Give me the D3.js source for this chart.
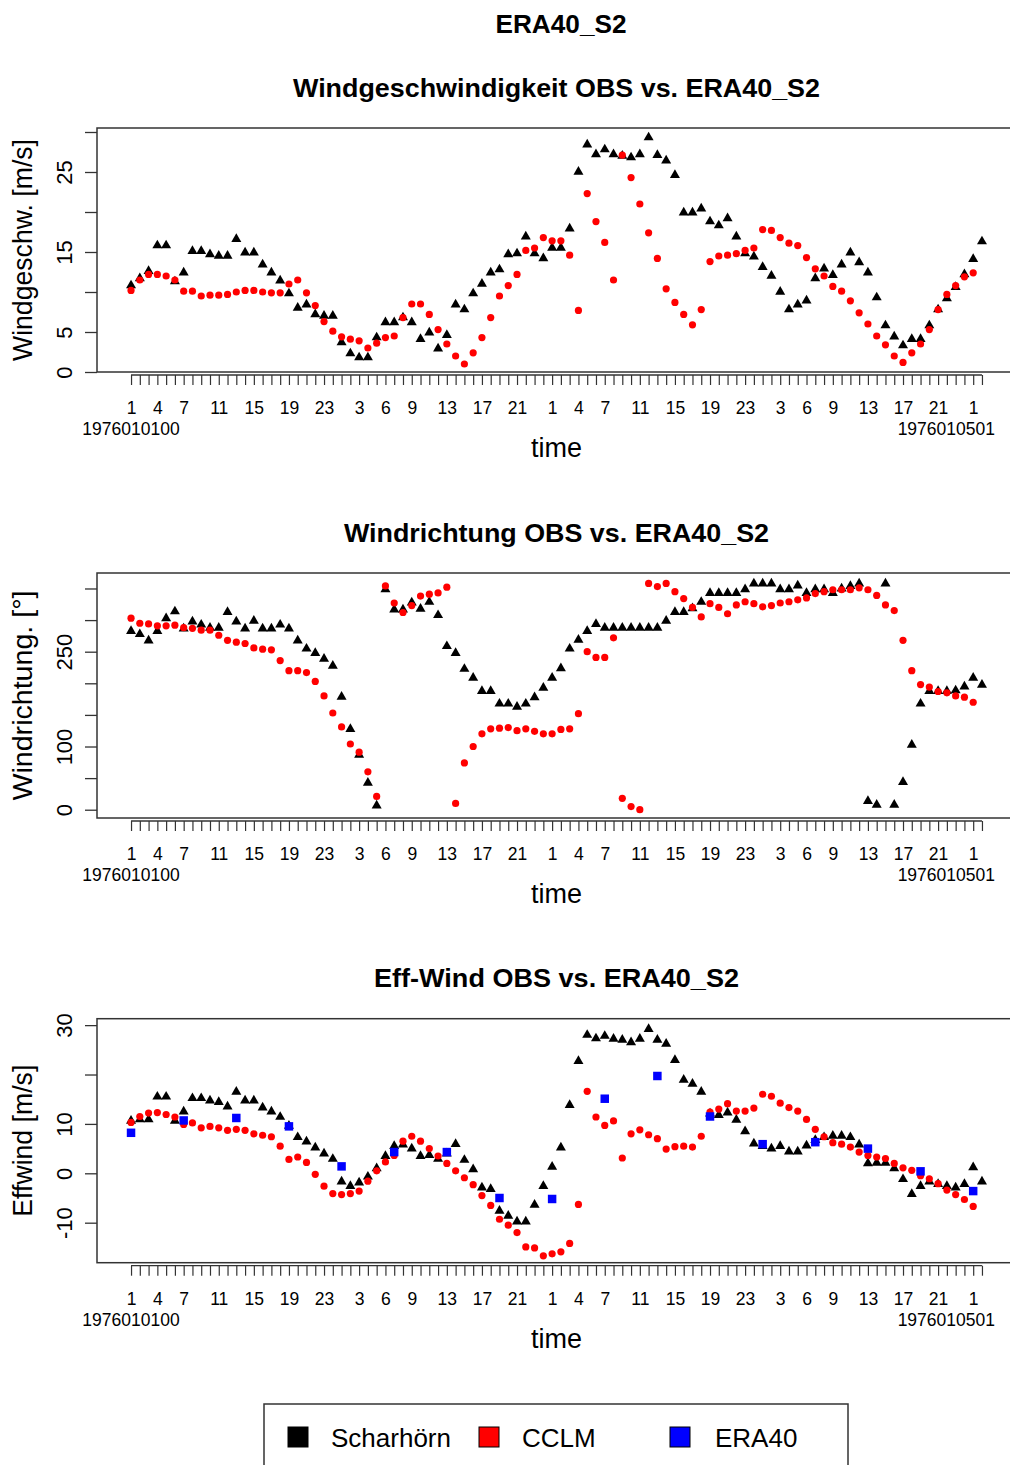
<!DOCTYPE html>
<html>
<head>
<meta charset="utf-8">
<title>ERA40_S2</title>
<script src="https://d3js.org/d3.v7.min.js"></script>
<style>
  body { margin: 0; background: #fff; }
  svg { display: block; font-family: "Liberation Sans", Arial, sans-serif; }
</style>
</head>
<body>
<div id="chart"></div>
<script>
// hourly values, index 0 = 1976010100 ... index 97 = 1976010501
let obsSpeed = [11.0, 11.9, 12.8, 16.0, 16.0, 11.5, 12.6, 15.3, 15.3, 14.9, 14.7, 14.7, 16.8, 15.1, 15.1, 13.6, 12.6, 11.6, 10.0, 8.2,
  8.6, 7.4, 7.2, 7.2, 3.9, 2.5, 2.0, 2.0, 4.5, 6.4, 6.4, 7.0, 6.4, 4.3, 5.1, 3.1, 4.8, 8.6, 8.0, 10.0,
  11.2, 12.6, 13.0, 14.9, 15.0, 17.1, 15.0, 14.4, 15.7, 15.7, 18.1, 25.2, 28.6, 27.4, 28.0, 27.4, 27.2, 27.0, 27.4, 29.5,
  27.3, 26.6, 24.8, 20.1, 20.1, 20.6, 19.0, 18.5, 19.4, 17.1, 15.0, 14.6, 13.3, 12.2, 10.2, 8.0, 8.6, 9.1, 11.9, 13.1,
  12.3, 13.6, 15.1, 13.9, 12.6, 9.5, 6.0, 4.6, 3.5, 4.3, 4.3, 6.0, 8.0, 9.4, 10.8, 12.4, 14.3, 16.5];
let cclmSpeed = [10.2, 11.5, 12.2, 12.2, 12.0, 11.5, 10.1, 10.1, 9.5, 9.6, 9.6, 9.7, 10.0, 10.2, 10.2, 10.0, 9.9, 9.9, 11.0, 11.5,
  9.9, 8.3, 6.3, 5.1, 4.4, 4.1, 3.9, 3.0, 3.6, 4.3, 4.5, 6.8, 8.5, 8.5, 7.2, 5.3, 3.5, 2.0, 1.0, 2.4,
  4.3, 6.8, 9.5, 10.8, 12.2, 15.2, 15.5, 16.8, 16.4, 16.4, 14.6, 7.7, 22.3, 18.8, 16.2, 11.5, 27.1, 24.3, 21.0, 17.4,
  14.2, 10.4, 8.7, 7.2, 5.9, 7.8, 13.8, 14.5, 14.6, 14.8, 15.2, 15.5, 17.8, 17.7, 16.8, 16.1, 15.8, 14.3, 12.9, 12.0,
  10.7, 10.1, 8.9, 7.4, 6.0, 4.5, 3.4, 2.0, 1.2, 2.4, 3.5, 5.3, 7.8, 9.7, 10.8, 11.9, 12.4, null];

let obsDir = [285, 280, 270, 285, 305, 316, 289, 300, 295, 290, 290, 315, 300, 289, 301, 289, 289, 295, 289, 270,
  257, 250, 241, 230, 181, 130, 89, 45, 9, 351, 319, 319, 330, 320, 331, 310, 261, 250, 225, 211,
  190, 190, 170, 170, 165, 170, 180, 195, 211, 226, 257, 271, 285, 296, 290, 290, 290, 290, 290, 290,
  290, 301, 315, 315, 321, 331, 345, 345, 345, 345, 351, 360, 360, 360, 351, 351, 357, 345, 351, 351,
  345, 352, 356, 360, 16, 10, 360, 10, 46, 105, 170, 190, 190, 190, 191, 197, 211, 200];
let cclmDir = [303, 295, 294, 291, 291, 292, 288, 287, 284, 284, 276, 268, 265, 263, 256, 254, 253, 236, 220, 220,
  217, 203, 180, 153, 131, 104, 91, 60, 21, 354, 327, 312, 323, 338, 341, 343, 352, 10, 74, 100,
  120, 128, 129, 130, 125, 128, 124, 120, 120, 127, 128, 152, 250, 241, 241, 272, 18, 5, 0, 358,
  353, 358, 345, 334, 320, 305, 326, 320, 310, 324, 329, 326, 321, 323, 327, 329, 332, 335, 342, 345,
  348, 348, 348, 351, 348, 339, 324, 315, 268, 220, 198, 194, 187, 185, 180, 178, 170, null];

let obsEff = [10.9, 11.2, 11.2, 15.8, 15.8, 10.9, 12.8, 15.5, 15.5, 15.0, 14.7, 13.8, 16.8, 15.0, 15.0, 13.6, 12.8, 11.7, 9.9, 7.6,
  6.7, 5.5, 4.3, 3.2, -1.4, -2.3, -1.6, -0.4, 1.3, 3.8, 5.8, 6.1, 5.3, 3.8, 4.0, 3.2, 4.3, 6.2, 3.0, 1.1,
  -2.6, -2.9, -7.3, -8.3, -9.5, -9.5, -6.1, -2.3, 1.6, 5.5, 14.1, 23.0, 28.3, 27.6, 28.1, 27.5, 27.3, 26.8, 27.5, 29.5,
  27.3, 26.5, 23.2, 19.2, 18.4, 16.8, 12.4, 12.1, 12.6, 11.1, 8.8, 6.3, 5.8, 5.3, 5.8, 4.7, 4.7, 5.9, 7.0, 7.6,
  7.9, 7.9, 7.6, 6.1, 2.3, 2.4, 2.4, 1.3, -0.9, -3.9, -2.3, -1.4, -1.9, -2.3, -2.6, -1.9, 1.5, -1.4];
let cclmEff = [10.3, 11.5, 12.2, 12.3, 11.9, 11.4, 9.9, 10.2, 9.2, 9.5, 9.2, 8.7, 8.9, 8.7, 8.0, 7.7, 7.4, 5.5, 2.8, 3.3,
  2.2, -0.2, -2.6, -4.1, -4.3, -4.1, -3.6, -1.6, 0.5, 2.3, 3.6, 6.5, 7.5, 6.5, 5.0, 3.5, 2.0, 0.5, -0.9, -2.3,
  -4.5, -6.5, -9.3, -10.5, -12.0, -14.9, -15.1, -16.7, -16.3, -15.9, -14.2, -6.3, 16.6, 11.4, 9.7, 10.6, 3.1, 8.0, 8.8, 7.8,
  7.0, 4.9, 5.4, 5.5, 5.3, 7.5, 12.4, 13.0, 14.1, 12.6, 12.6, 13.2, 16.0, 15.6, 14.2, 13.3, 12.6, 10.9, 8.9, 7.4,
  6.2, 5.9, 5.3, 4.3, 3.6, 3.3, 3.0, 2.0, 1.1, 0.6, -0.5, -1.1, -2.1, -3.4, -4.3, -5.3, -6.7, null];

// ERA40 is 6-hourly
let eraHours = [0, 6, 12, 18, 24, 30, 36, 42, 48, 54, 60, 66, 72, 78, 84, 90, 96];
let eraEff = [8.2, 10.7, 11.2, 9.5, 1.4, 4.3, 4.3, -5.0, -5.2, 15.1, 19.7, 11.5, 5.9, 6.3, 5.0, 0.4, -3.6];

// x tick labels (hour of day), shown only where R had room for them
let hourTickPos = [0, 3, 6, 10, 14, 18, 22, 26, 29, 32, 36, 40, 44, 48, 51, 54, 58, 62, 66, 70, 74, 77, 80, 84, 88, 92, 96];
let hourTickText = ['1', '4', '7', '11', '15', '19', '23', '3', '6', '9', '13', '17', '21',
  '1', '4', '7', '11', '15', '19', '23', '3', '6', '9', '13', '17', '21', '1'];
let dateLabels = ['1976010100', '1976010501'];

let speedTicks = [0, 5, 10, 15, 20, 25, 30];
let speedLabels = [0, 5, 15, 25];
let dirTicks = [0, 50, 100, 150, 200, 250, 300, 350];
let dirLabels = [0, 100, 250];
let effTicks = [-10, 0, 10, 20, 30];
let effLabels = [-10, 0, 10, 30];

let legendNames = ['Scharhörn', 'CCLM', 'ERA40'];
let legendColors = ['#000000', '#ff0000', '#0000ff'];


const W = 1010, H = 1465;
const left = 97, right = 1016;

const svg = d3.select('#chart').append('svg')
  .attr('width', W)
  .attr('height', H);
svg.append('rect').attr('width', W).attr('height', H).attr('fill', '#fff');

const x = d3.scaleLinear().domain([-3.88, 100.88]).range([left, right]);
const hours = d3.range(obsSpeed.length);

// R style pch 17: triangle centred on its bounding box
const triangle = {
  draw(context, size) {
    const w = Math.sqrt(size), h = w * 0.87;
    context.moveTo(0, -h / 2);
    context.lineTo(w / 2, h / 2);
    context.lineTo(-w / 2, h / 2);
    context.closePath();
  }
};

svg.append('text')
  .attr('x', 561).attr('y', 33)
  .attr('text-anchor', 'middle')
  .attr('font-size', 26).attr('font-weight', 'bold')
  .attr('textLength', 131).attr('lengthAdjust', 'spacingAndGlyphs')
  .text('ERA40_S2');

const panels = [
  { title: 'Windgeschwindigkeit OBS vs. ERA40_S2', titleLen: 527,
    ylab: 'Windgeschw. [m/s]', ylabLen: 222,
    top: 128, bottom: 372, domain: [0, 30.5], ticks: speedTicks, labels: speedLabels,
    obs: obsSpeed, cclm: cclmSpeed, era: null },
  { title: 'Windrichtung OBS vs. ERA40_S2', titleLen: 425,
    ylab: 'Windrichtung. [°]', ylabLen: 210,
    top: 573, bottom: 818, domain: [-13.1, 374.5], ticks: dirTicks, labels: dirLabels,
    obs: obsDir, cclm: cclmDir, era: null },
  { title: 'Eff-Wind OBS vs. ERA40_S2', titleLen: 365,
    ylab: 'Effwind [m/s]', ylabLen: 152,
    top: 1018.7, bottom: 1262.7, domain: [-18.1, 31.3], ticks: effTicks, labels: effLabels,
    obs: obsEff, cclm: cclmEff, era: eraEff }
];

panels.forEach(p => {
  const g = svg.append('g');
  const y = d3.scaleLinear().domain(p.domain).range([p.bottom, p.top]);

  // title
  g.append('text')
    .attr('x', (left + right) / 2).attr('y', p.top - 31.5)
    .attr('text-anchor', 'middle')
    .attr('font-size', 26).attr('font-weight', 'bold')
    .attr('textLength', p.titleLen).attr('lengthAdjust', 'spacingAndGlyphs')
    .text(p.title);

  // y axis
  const yAxis = d3.axisLeft(y)
    .tickValues(p.ticks)
    .tickSize(12)
    .tickFormat(v => p.labels.includes(v) ? String(v) : '');
  const ya = g.append('g')
    .attr('transform', 'translate(' + left + ',0)')
    .call(yAxis);
  ya.select('.domain').remove();
  ya.selectAll('line').attr('stroke', '#333').attr('stroke-width', 1.3);
  ya.attr('font-size', 22).attr('font-family', null);
  ya.selectAll('text')
    .attr('x', 0).attr('y', -25).attr('dy', 0)
    .attr('transform', 'rotate(-90)')
    .attr('text-anchor', 'middle')
    .attr('fill', '#000');

  g.append('text')
    .attr('transform', 'translate(32,' + (p.top + p.bottom) / 2 + ') rotate(-90)')
    .attr('text-anchor', 'middle')
    .attr('font-size', 27)
    .attr('textLength', p.ylabLen).attr('lengthAdjust', 'spacingAndGlyphs')
    .text(p.ylab);

  // x axis, hourly ticks
  const xAxis = d3.axisBottom(x)
    .tickValues(hours)
    .tickSize(10)
    .tickPadding(17)
    .tickFormat(i => {
      const k = hourTickPos.indexOf(i);
      return k < 0 ? '' : hourTickText[k];
    });
  const xa = g.append('g')
    .attr('transform', 'translate(0,' + (p.bottom + 3) + ')')
    .call(xAxis);
  xa.select('.domain').remove();
  xa.attr('font-size', 17.5).attr('font-family', null);
  xa.selectAll('line').attr('stroke', '#333').attr('stroke-width', 1.2);
  xa.selectAll('text').attr('fill', '#000');
  xa.append('line')
    .attr('x1', x(hours[0])).attr('x2', x(hours[hours.length - 1]))
    .attr('stroke', '#333').attr('stroke-width', 1.3);

  g.append('text')
    .attr('x', x(hours[0])).attr('y', p.bottom + 63)
    .attr('text-anchor', 'middle').attr('font-size', 17.5)
    .text(dateLabels[0]);
  g.append('text')
    .attr('x', x(hours[hours.length - 1]) + 13).attr('y', p.bottom + 63)
    .attr('text-anchor', 'end').attr('font-size', 17.5)
    .text(dateLabels[1]);

  g.append('text')
    .attr('x', (left + right) / 2).attr('y', p.bottom + 85)
    .attr('text-anchor', 'middle').attr('font-size', 27)
    .text('time');

  // points: OBS, then CCLM, then ERA40 on top
  g.selectAll(null)
    .data(hours.filter(i => p.obs[i] != null))
    .join('path')
    .attr('transform', i => 'translate(' + x(i) + ',' + y(p.obs[i]) + ')')
    .attr('d', d3.symbol(triangle, 100))
    .attr('fill', legendColors[0]);

  g.selectAll(null)
    .data(hours.filter(i => p.cclm[i] != null))
    .join('circle')
    .attr('cx', i => x(i))
    .attr('cy', i => y(p.cclm[i]))
    .attr('r', 3.6)
    .attr('fill', legendColors[1]);

  if (p.era) {
    g.selectAll(null)
      .data(eraHours.map((h, k) => ({ h: h, v: p.era[k] })))
      .join('path')
      .attr('transform', d => 'translate(' + x(d.h) + ',' + y(d.v) + ')')
      .attr('d', d3.symbol(d3.symbolSquare, 72))
      .attr('fill', legendColors[2]);
  }

  // plot box
  g.append('rect')
    .attr('x', left).attr('y', p.top)
    .attr('width', right - left).attr('height', p.bottom - p.top)
    .attr('fill', 'none')
    .attr('stroke', '#333').attr('stroke-width', 1.5);
});

// legend
const lg = svg.append('g');
lg.append('rect')
  .attr('x', 264).attr('y', 1404)
  .attr('width', 584).attr('height', 90)
  .attr('fill', 'none').attr('stroke', '#333').attr('stroke-width', 1.5);

const legendBoxX = [288, 479, 670];
const legendTextX = [331, 522, 715];
legendNames.forEach((name, k) => {
  lg.append('rect')
    .attr('x', legendBoxX[k]).attr('y', 1427)
    .attr('width', 20).attr('height', 20)
    .attr('fill', legendColors[k])
    .attr('stroke', '#000').attr('stroke-width', 1);
  lg.append('text')
    .attr('x', legendTextX[k]).attr('y', 1447)
    .attr('font-size', 26)
    .text(name);
});
</script>
</body>
</html>
